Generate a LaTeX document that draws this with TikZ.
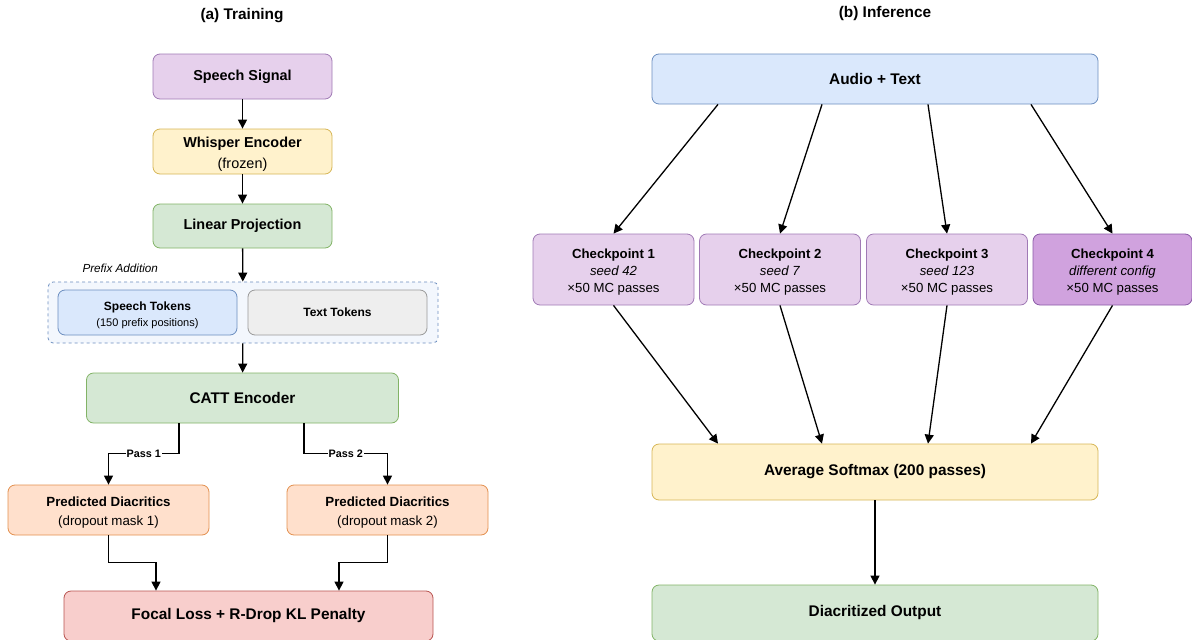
\documentclass[tikz,border=0pt]{standalone}
\usepackage{fontspec}
\setmainfont{Liberation Sans}
\usetikzlibrary{arrows.meta,positioning}

\definecolor{purplefill}{HTML}{E6D0EC}
\definecolor{purpleline}{HTML}{A07AB5}
\definecolor{purpledark}{HTML}{D0A2DE}
\definecolor{purpledarkline}{HTML}{8A5AA6}
\definecolor{yellowfill}{HTML}{FFF2CC}
\definecolor{yellowline}{HTML}{D6B656}
\definecolor{greenfill}{HTML}{D5E8D4}
\definecolor{greenline}{HTML}{82B366}
\definecolor{bluefill}{HTML}{DAE8FC}
\definecolor{blueline}{HTML}{6C8EBF}
\definecolor{greyfill}{HTML}{EEEEEE}
\definecolor{greyline}{HTML}{999999}
\definecolor{orangefill}{HTML}{FFE0CC}
\definecolor{orangeline}{HTML}{E3904F}
\definecolor{redfill}{HTML}{F8CECC}
\definecolor{redline}{HTML}{B85450}
\definecolor{groupfill}{HTML}{F3F7FD}

\newcommand{\topstrut}{\rule{0pt}{1.15em}}

\tikzset{
  box/.style={draw, rounded corners=7pt, line width=0.8pt, align=center, inner sep=0pt},
  arr/.style={draw=black, line width=1.3pt, -{Triangle[length=9pt,width=9pt]}},
  big/.style={font=\fontsize{15.4}{20}\selectfont\bfseries},
  mid/.style={font=\fontsize{14.4}{21}\selectfont},
  small/.style={font=\fontsize{13.2}{17}\selectfont},
  tiny/.style={font=\fontsize{11}{16}\selectfont},
  passlbl/.style={fill=white, inner sep=1pt, font=\fontsize{10.8}{12}\selectfont\bfseries},
}

\begin{document}
\begin{tikzpicture}[x=1pt, y=-1pt]
\useasboundingbox (0,0) rectangle (1192,640);

% titles
\node[big] (titleA) at (242,16) {(a) Training};
\node[big] (titleB) at (885,14) {(b) Inference};

% training
\node[box, mid, fill=purplefill, draw=purpleline, minimum width=179, minimum height=45] (speech) at (242.5,76.5) {\textbf{Speech Signal}};
\node[box, mid, fill=yellowfill, draw=yellowline, minimum width=179, minimum height=45] (whisper) at (242.5,151.5) {\topstrut\textbf{Whisper Encoder}\\(frozen)};
\node[box, mid, fill=greenfill, draw=greenline, minimum width=179, minimum height=44] (proj) at (242.5,226) {\textbf{Linear Projection}};

\node[box, dashed, fill=groupfill, draw=blueline, rounded corners=5pt, minimum width=390, minimum height=61] (prefix) at (243,312.5) {};
\node[anchor=west, font=\fontsize{11.7}{14}\selectfont\itshape] (prefixlbl) at (79,268) {Prefix Addition};
\node[box, tiny, fill=bluefill, draw=blueline, minimum width=179, minimum height=45] (speechtok) at (147.5,312.5) {\fontsize{12}{16}\selectfont\topstrut\textbf{Speech Tokens}\\(150 prefix positions)};
\node[box, fill=greyfill, draw=greyline, font=\fontsize{12}{16}\selectfont\bfseries, minimum width=179, minimum height=45] (texttok) at (337.5,312.5) {Text Tokens};

\node[box, big, fill=greenfill, draw=greenline, minimum width=312, minimum height=50] (catt) at (242.5,398) {CATT Encoder};

\node[box, fill=orangefill, draw=orangeline, font=\fontsize{13.3}{19}\selectfont, minimum width=201, minimum height=50] (pred1) at (108.5,510) {\topstrut\textbf{Predicted Diacritics}\\(dropout mask 1)};
\node[box, fill=orangefill, draw=orangeline, font=\fontsize{13.3}{19}\selectfont, minimum width=201, minimum height=50] (pred2) at (387.5,510) {\topstrut\textbf{Predicted Diacritics}\\(dropout mask 2)};

\node[box, big, fill=redfill, draw=redline, minimum width=369, minimum height=50] (loss) at (248.5,616) {Focal Loss + R-Drop KL Penalty};

\draw[arr] (speech) -- (whisper);
\draw[arr] (whisper) -- (proj);
\draw[arr] (proj) -- (prefix);
\draw[arr] (prefix) -- (catt);
\draw[arr] ([xshift=-63.5pt]catt.south) -- ++(0,30) -| (pred1.north) node[pos=0.25, passlbl] {Pass 1};
\draw[arr] ([xshift=61.5pt]catt.south) -- ++(0,30) -| (pred2.north) node[pos=0.25, passlbl] {Pass 2};
\draw[arr] (pred1.south) -- ++(0,27) -| ([xshift=-92.5pt]loss.north);
\draw[arr] (pred2.south) -- ++(0,27) -| ([xshift=90.5pt]loss.north);

% inference
\node[box, big, fill=bluefill, draw=blueline, minimum width=446, minimum height=50] (audio) at (875,79) {Audio + Text};

\node[box, small, fill=purplefill, draw=purpleline, minimum width=161, minimum height=71] (ck1) at (613.5,269.5) {\topstrut\textbf{Checkpoint 1}\\\textit{seed 42}\\×50 MC passes};
\node[box, small, fill=purplefill, draw=purpleline, minimum width=161, minimum height=71] (ck2) at (780,269.5) {\topstrut\textbf{Checkpoint 2}\\\textit{seed 7}\\×50 MC passes};
\node[box, small, fill=purplefill, draw=purpleline, minimum width=161, minimum height=71] (ck3) at (947,269.5) {\topstrut\textbf{Checkpoint 3}\\\textit{seed 123}\\×50 MC passes};
\node[box, small, fill=purpledark, draw=purpledarkline, minimum width=159, minimum height=71] (ck4) at (1112.5,269.5) {\topstrut\textbf{Checkpoint 4}\\\textit{different config}\\×50 MC passes};

\node[box, big, fill=yellowfill, draw=yellowline, minimum width=446, minimum height=56] (avg) at (875,472) {Average Softmax (200 passes)};
\node[box, big, fill=greenfill, draw=greenline, minimum width=446, minimum height=56] (out) at (875,613) {Diacritized Output};

\foreach \i/\dx in {1/-157,2/-53,3/53,4/156} {
  \draw[arr] ([xshift=\dx pt]audio.south) -- (ck\i.north);
  \draw[arr] (ck\i.south) -- ([xshift=\dx pt]avg.north);
}
\draw[arr] (avg) -- (out);
\end{tikzpicture}
\end{document}
